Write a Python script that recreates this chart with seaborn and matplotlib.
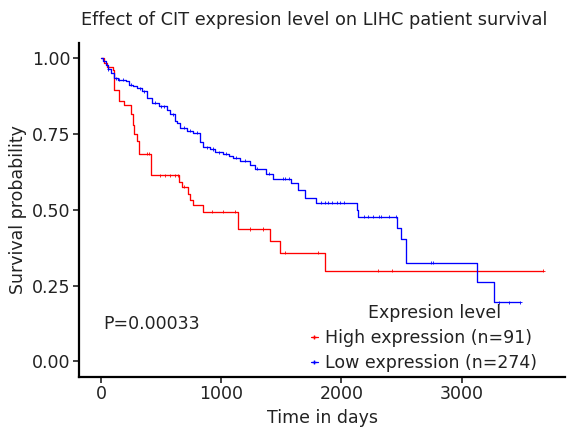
import numpy as np
import pandas as pd
import matplotlib
matplotlib.use("Agg")
import matplotlib.pyplot as plt
import seaborn as sns
from matplotlib.lines import Line2D

# Kaplan-Meier steps (time in days, survival after step)
high_time = [0, 23, 51, 98, 106, 147, 190, 252, 262, 272, 300, 313, 415,
             644, 672, 719, 740, 768, 846, 1141, 1403, 1492, 1859]
high_surv = [1.0, 0.984, 0.973, 0.962, 0.897, 0.86, 0.845, 0.816, 0.78, 0.75,
             0.728, 0.685, 0.614, 0.592, 0.576, 0.553, 0.532, 0.517, 0.494,
             0.437, 0.397, 0.359, 0.299]
high_end = 3680
high_censor = [382, 396, 492, 534, 575, 617, 637, 686, 920, 1017, 1113,
               1238, 1348, 1527, 1803, 2300, 2424, 3680]

low_time = [0, 15, 37, 55, 79, 106, 140, 203, 230, 265, 300, 341, 382, 424,
            478, 548, 575, 617, 631, 658, 714, 768, 824, 851, 906, 948, 1017,
            1060, 1099, 1155, 1238, 1279, 1376, 1431, 1583, 1638, 1693, 1790,
            2126, 2137, 2466, 2493, 2535, 3128, 3266]
low_surv = [1.0, 0.99, 0.978, 0.965, 0.951, 0.934, 0.93, 0.924, 0.913, 0.908,
            0.902, 0.891, 0.869, 0.853, 0.842, 0.831, 0.815, 0.793, 0.788,
            0.771, 0.762, 0.755, 0.723, 0.706, 0.701, 0.690, 0.685, 0.678,
            0.672, 0.663, 0.647, 0.636, 0.620, 0.603, 0.589, 0.565, 0.538,
            0.524, 0.50, 0.478, 0.44, 0.404, 0.326, 0.261, 0.196]
low_end = 3487
low_censor = [60, 120, 150, 180, 250, 320, 360, 450, 500, 520, 600, 690,
              740, 800, 880, 930, 980, 1040, 1120, 1200, 1299, 1400, 1513,
              1530, 1560, 1831, 1860, 1890, 1920, 1960, 1990, 2024, 2190,
              2220, 2260, 2314, 2330, 2397, 2450, 2741, 2760, 3307, 3390, 3487]

labels = ["High expression (n=91)", "Low expression (n=274)"]
colors = ["#FF0000", "#0000FF"]
p_text = "P=0.00033"


def curve(times, surv, end, label):
    return pd.DataFrame({"time": times + [end], "surv": surv + [surv[-1]],
                         "group": label})


def censor(times, surv, cens, label):
    idx = np.searchsorted(times, cens, side="right") - 1
    return pd.DataFrame({"time": cens, "surv": np.array(surv)[idx],
                         "group": label})


lines = pd.concat([curve(high_time, high_surv, high_end, labels[0]),
                   curve(low_time, low_surv, low_end, labels[1])])
marks = pd.concat([censor(high_time, high_surv, high_censor, labels[0]),
                   censor(low_time, low_surv, low_censor, labels[1])])

sns.set_style("white")
plt.rcParams["font.family"] = ["DejaVu Sans"]
palette = dict(zip(labels, colors))

fig = plt.figure(figsize=(5.81, 4.28), dpi=100)
ax = fig.add_axes([0.136, 0.12, 0.8365, 0.779])

sns.lineplot(data=lines, x="time", y="surv", hue="group", palette=palette,
             drawstyle="steps-post", estimator=None, sort=False,
             linewidth=0.95, ax=ax, legend=False)
sns.scatterplot(data=marks, x="time", y="surv", hue="group", palette=palette,
                marker="+", s=5, linewidth=0.6, ax=ax, legend=False)

ax.set_xlim(-184, 3860)
ax.set_ylim(-0.05, 1.05)
ax.set_xticks([0, 1000, 2000, 3000])
ax.set_yticks([0, 0.25, 0.5, 0.75, 1.0])
ax.set_yticklabels(["0.00", "0.25", "0.50", "0.75", "1.00"])
ax.tick_params(axis="both", labelsize=12.5, colors="#222222", length=4,
               width=1.2, direction="out", left=True, bottom=True, pad=2)
for side in ["top", "right"]:
    ax.spines[side].set_visible(False)
for side in ["left", "bottom"]:
    ax.spines[side].set_color("black")
    ax.spines[side].set_linewidth(1.6)

ax.set_xlabel("Time in days", fontsize=12.5, color="#222222")
ax.set_ylabel("Survival probability", fontsize=12.5, color="#222222")
ax.set_title("Effect of CIT expresion level on LIHC patient survival",
             fontsize=12.8, color="#222222", pad=13, x=0.484)

ax.text(20, 0.125, p_text, fontsize=12.5, va="center", ha="left",
        color="#222222")

handles = [Line2D([0], [0], color=c, lw=0.9, marker="+", markersize=2.5)
           for c in colors]
leg = ax.legend(handles, labels, title="\u2007\u2007Expresion level",
                loc="upper left", bbox_to_anchor=(0.452, 0.255),
                frameon=False, fontsize=12.5, title_fontsize=12.5,
                handlelength=0.4, handletextpad=0.4, labelspacing=0.42,
                borderpad=0.2)
for t in leg.get_texts():
    t.set_color("#222222")
leg.get_title().set_color("#222222")

fig.savefig("out.png", dpi=100)
